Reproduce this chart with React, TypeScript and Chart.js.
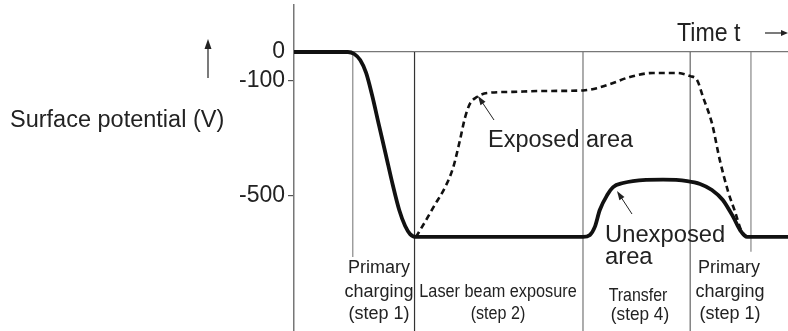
import React, { useEffect, useRef } from "react";
import { Chart, registerables } from "chart.js";

Chart.register(...registerables);

// Time (arbitrary units, 0..100) and surface potential (V)
const timeUnexposed = [0, 10.9, 12.2, 13.4, 14.6, 15.8, 17.2, 18.6, 20.0, 21.3, 22.5, 23.5, 24.7, 58.5, 59.9, 60.9, 61.9, 63.4, 64.6, 66.6, 68.6, 74.7, 79.6, 82.2, 84.6, 86.8, 88.9, 90.3, 91.7, 100];
const potentialUnexposed = [0, 0, -7, -28, -73, -150, -255, -359, -464, -551, -607, -635, -645, -645, -638, -610, -551, -499, -471, -457, -450, -445, -450, -460, -481, -516, -575, -621, -645, -645];

const timeExposed = [24.7, 26.5, 28.5, 30.6, 32.2, 33.6, 34.6, 35.6, 37.0, 39.1, 44.3, 49.8, 58.5, 61.3, 64.6, 68.0, 72.7, 77.5, 80.2, 81.6, 82.8, 84.6, 86.2, 87.9, 89.3, 90.5, 91.7];
const potentialExposed = [-645, -593, -533, -471, -404, -307, -230, -181, -157, -143, -139, -136, -134, -126, -108, -87, -73, -73, -84, -98, -157, -248, -377, -488, -558, -621, -645];

// Step boundaries (time) and the potential down to which each boundary line is drawn
const boundaryTimes = [11.9, 24.4, 58.5, 80.2, 92.5];
const boundaryEnds = [-715, -973, -973, -973, -697];

const yTickValues = [0, -100, -500];
const Y_MIN = -973;
const Y_MAX = 164;

const boundaryColors = ["#888", "#333", "#777", "#666", "#888"];
const FONT = '"Liberation Sans", Arial, Helvetica, sans-serif';
const INK = "#222";

function drawText(ctx: CanvasRenderingContext2D, s: string, x: number, y: number, size: number, align: CanvasTextAlign, sx = 1) {
  ctx.save();
  ctx.font = `${size}px ${FONT}`;
  ctx.fillStyle = INK;
  ctx.textAlign = align;
  ctx.textBaseline = "alphabetic";
  ctx.translate(x, y);
  ctx.scale(sx, 1);
  ctx.fillText(s, 0, 0);
  ctx.restore();
}

function drawArrow(ctx: CanvasRenderingContext2D, x1: number, y1: number, x2: number, y2: number, headLen: number, headW: number, width = 1) {
  const a = Math.atan2(y2 - y1, x2 - x1);
  ctx.save();
  ctx.strokeStyle = INK;
  ctx.fillStyle = INK;
  ctx.lineWidth = width;
  ctx.beginPath();
  ctx.moveTo(x1, y1);
  ctx.lineTo(x2 - Math.cos(a) * headLen * 0.8, y2 - Math.sin(a) * headLen * 0.8);
  ctx.stroke();
  ctx.beginPath();
  ctx.moveTo(x2, y2);
  ctx.lineTo(x2 - Math.cos(a) * headLen + Math.sin(a) * headW / 2, y2 - Math.sin(a) * headLen - Math.cos(a) * headW / 2);
  ctx.lineTo(x2 - Math.cos(a) * headLen - Math.sin(a) * headW / 2, y2 - Math.sin(a) * headLen + Math.cos(a) * headW / 2);
  ctx.closePath();
  ctx.fill();
  ctx.restore();
}

const annotationPlugin = {
  id: "annotations",
  afterDraw(chart: any) {
    const ctx: CanvasRenderingContext2D = chart.ctx;
    // axis title and arrow
    drawText(ctx, "Surface potential (V)", 10, 127, 23.5, "left");
    drawArrow(ctx, 208, 78, 208, 39, 10, 7, 1.2);
    // time label and arrow
    drawText(ctx, "Time t", 677, 41, 26, "left", 0.89);
    drawArrow(ctx, 765, 33, 788, 33, 7, 6, 1.2);
    // curve labels
    drawText(ctx, "Exposed area", 488, 147, 23.5, "left");
    drawArrow(ctx, 494, 120, 478, 96, 9, 6, 1);
    drawText(ctx, "Unexposed", 605, 242, 24.5, "left", 0.97);
    drawText(ctx, "area", 605, 264, 24.5, "left", 0.97);
    drawArrow(ctx, 632, 214, 617, 191, 9, 6, 1);
    // step labels
    drawText(ctx, "Primary", 379, 273, 18, "center");
    drawText(ctx, "charging", 379, 297, 18, "center");
    drawText(ctx, "(step 1)", 379, 319, 18, "center");
    drawText(ctx, "Laser beam exposure", 498, 297, 17.5, "center", 0.93);
    drawText(ctx, "(step 2)", 498, 319, 17.5, "center", 0.92);
    drawText(ctx, "Transfer", 638, 301, 18.5, "center", 0.86);
    drawText(ctx, "(step 4)", 640, 320, 18.5, "center", 0.93);
    drawText(ctx, "Primary", 729, 273, 18, "center");
    drawText(ctx, "charging", 730, 297, 18, "center");
    drawText(ctx, "(step 1)", 730, 319, 18, "center");
  },
};

export default function App() {
  const canvasRef = useRef<HTMLCanvasElement | null>(null);

  useEffect(() => {
    if (!canvasRef.current) return;
    const curves: any[] = [
      {
        label: "Unexposed area",
        data: timeUnexposed.map((t, i) => ({ x: t, y: potentialUnexposed[i] })),
        borderColor: "#111",
        borderWidth: 3.8,
        pointRadius: 0,
        cubicInterpolationMode: "monotone",
        fill: false,
        borderCapStyle: "round",
      },
      {
        label: "Exposed area",
        data: timeExposed.map((t, i) => ({ x: t, y: potentialExposed[i] })),
        borderColor: "#111",
        borderWidth: 2.6,
        borderDash: [6, 4],
        pointRadius: 0,
        cubicInterpolationMode: "monotone",
        fill: false,
      },
    ];
    const bounds = boundaryTimes.map((t, i) => ({
      label: "boundary" + i,
      data: [
        { x: t, y: 0 },
        { x: t, y: boundaryEnds[i] },
      ],
      borderColor: boundaryColors[i],
      borderWidth: 1.2,
      pointRadius: 0,
      fill: false,
    }));

    const chart = new Chart(canvasRef.current, {
      type: "line",
      data: { datasets: [...curves, ...bounds] },
      options: {
        animation: false,
        responsive: false,
        maintainAspectRatio: false,
        layout: { autoPadding: false, padding: { top: 5, left: 0, right: 0, bottom: 0 } },
        plugins: { legend: { display: false }, tooltip: { enabled: false } },
        scales: {
          x: {
            type: "linear",
            min: 0,
            max: 100,
            display: false,
          },
          y: {
            type: "linear",
            min: Y_MIN,
            max: Y_MAX,
            afterBuildTicks: (scale: any) => {
              scale.ticks = yTickValues.map((v) => ({ value: v }));
            },
            afterFit: (scale: any) => {
              scale.width = 294;
              scale.paddingTop = 0;
              scale.paddingBottom = 0;
            },
            ticks: {
              autoSkip: false,
              padding: 3,
              color: INK,
              font: { family: FONT, size: 23 },
              callback: (v: any) => String(v),
            },
            grid: {
              drawOnChartArea: true,
              drawTicks: true,
              tickLength: 6,
              lineWidth: 1.2,
              tickWidth: 1.2,
              color: (c: any) => (c.tick && c.tick.value === 0 ? "#777" : "rgba(0,0,0,0)"),
              tickColor: (c: any) => (c.tick && c.tick.value === 0 ? "rgba(0,0,0,0)" : "#555"),
            },
            border: { display: true, color: "#777", width: 1.5 },
          },
        },
      },
      plugins: [annotationPlugin],
    } as any);
    return () => chart.destroy();
  }, []);

  return (
    <div style={{ position: "fixed", left: 0, top: 0, width: 788, height: 331, background: "#fff" }}>
      <canvas ref={canvasRef} width={788} height={331} style={{ display: "block" }} />
    </div>
  );
}
